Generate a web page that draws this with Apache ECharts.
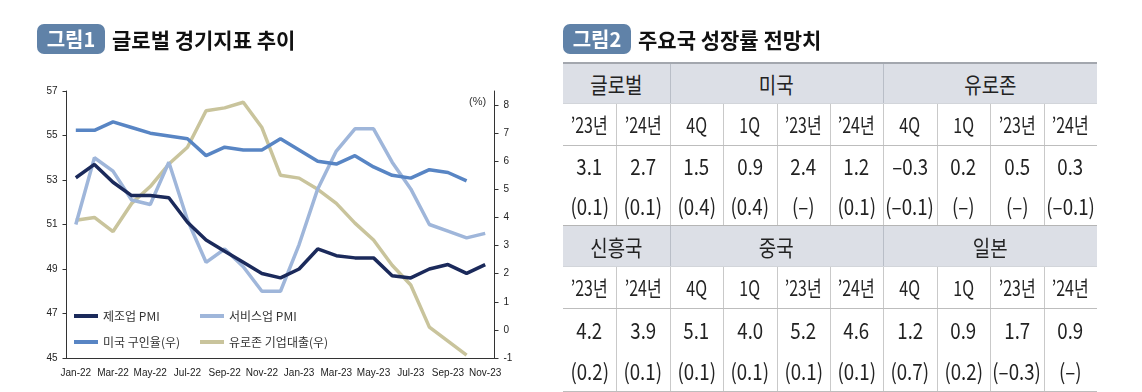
<!DOCTYPE html>
<html><head><meta charset="utf-8">
<script src="https://cdn.jsdelivr.net/npm/echarts@6/dist/echarts.min.js"></script>
<style>
html,body{margin:0;padding:0;background:#fff;width:1142px;height:392px;overflow:hidden;font-family:"Noto Sans CJK KR","Noto Sans",sans-serif;}
#chart{position:absolute;left:0;top:0;width:540px;height:392px;}
.badge{position:absolute;height:30px;background:#6082a8;border-radius:7px;color:#fff;font-weight:bold;font-size:20px;line-height:30px;text-align:center;}
.title{position:absolute;font-weight:bold;font-size:21px;color:#111;line-height:30px;white-space:nowrap;}
#tbl{position:absolute;left:0;top:0;width:1142px;height:392px;}
.cell{position:absolute;display:flex;align-items:center;justify-content:center;white-space:nowrap;color:#222;}
.cell span{display:inline-block;}
.grp{font-size:22px;}
.grp span{transform:scaleX(0.86);}
.sub{font-size:21px;}
.sub span{transform:scaleX(0.76);}
.val{font-size:22px;}
.val span{transform:scaleX(0.85);}
.ln{position:absolute;}
</style>
</head><body>
<div id="chart"></div>
<div id="tbl"></div>
<div class="badge" style="left:37px;top:24px;width:68px;">그림1</div>
<div class="title" style="left:112px;top:24px;">글로벌 경기지표 추이</div>
<div class="badge" style="left:563px;top:24px;width:68px;">그림2</div>
<div class="title" style="left:638px;top:24px;">주요국 성장률 전망치</div>
<script>
// ---- chart data ----
const months = ['Jan-22','Feb-22','Mar-22','Apr-22','May-22','Jun-22','Jul-22','Aug-22','Sep-22','Oct-22','Nov-22','Dec-22',
                'Jan-23','Feb-23','Mar-23','Apr-23','May-23','Jun-23','Jul-23','Aug-23','Sep-23','Oct-23','Nov-23'];
const mfgPMI = [53.1,53.7,52.9,52.3,52.3,52.2,51.1,50.3,49.8,49.3,48.8,48.6,49.0,49.9,49.6,49.5,49.5,48.7,48.6,49.0,49.2,48.8,49.2];
const svcPMI = [51.0,54.0,53.4,52.1,51.9,53.8,51.2,49.3,49.9,49.1,48.0,48.0,50.1,52.6,54.3,55.3,55.3,53.8,52.6,51.0,50.7,50.4,50.6];
const usJobOpenings = [7.1,7.1,7.4,7.2,7.0,6.9,6.8,6.2,6.5,6.4,6.4,6.8,6.4,6.0,5.9,6.2,5.8,5.5,5.4,5.7,5.6,5.3,null];
const euroCorpLoans = [3.9,4.0,3.5,4.5,5.1,5.9,6.5,7.8,7.9,8.1,7.2,5.5,5.4,5.0,4.5,3.8,3.2,2.3,1.6,0.1,-0.4,-0.9,null];
const leftTicks = [45,47,49,51,53,55,57];
const rightTicks = [-1,0,1,2,3,4,5,6,7,8];
const seriesNames = ['제조업 PMI','서비스업 PMI','미국 구인율(우)','유로존 기업대출(우)'];

// ---- table data ----
const tblSubHeads = ['’23년','’24년','4Q','1Q','’23년','’24년','4Q','1Q','’23년','’24년'];
const tblGroupSpans = [2,4,4];
const tblGroups1 = ['글로벌','미국','유로존'];
const tblValues1 = ['3.1','2.7','1.5','0.9','2.4','1.2','–0.3','0.2','0.5','0.3'];
const tblChanges1 = ['(0.1)','(0.1)','(0.4)','(0.4)','(–)','(0.1)','(–0.1)','(–)','(–)','(–0.1)'];
const tblGroups2 = ['신흥국','중국','일본'];
const tblValues2 = ['4.2','3.9','5.1','4.0','5.2','4.6','1.2','0.9','1.7','0.9'];
const tblChanges2 = ['(0.2)','(0.1)','(0.1)','(0.1)','(0.1)','(0.1)','(0.7)','(0.2)','(–0.3)','(–)'];

const colors = ['#1b2a5b','#9fb6da','#5885c4','#c9c49c'];
const font = '"Liberation Sans","Noto Sans CJK KR",sans-serif';

const chart = echarts.init(document.getElementById('chart'), null, {renderer:'canvas'});
function legendAt(name, left, top){
  return {data:[name], left:left, top:top, orient:'horizontal', padding:0, itemWidth:24, itemHeight:4, icon:'rect', itemGap:5,
    textStyle:{fontSize:12, color:'#333', fontFamily:'"Noto Sans CJK KR",sans-serif'}};
}
chart.setOption({
  animation:false,
  backgroundColor:'#fff',
  grid:{left:66.5, right:540-494.5, top:91, bottom:34},
  legend:[
    legendAt(seriesNames[0], 74, 310),
    legendAt(seriesNames[2], 74, 336),
    legendAt(seriesNames[1], 200, 310),
    legendAt(seriesNames[3], 200, 336)
  ],
  graphic:[{type:'text', left:469, top:96, style:{text:'(%)', fontSize:11, fill:'#333', fontFamily:font}}],
  xAxis:{type:'category', data:months, boundaryGap:true,
    axisLine:{onZero:false, lineStyle:{color:'#333', width:1}},
    axisTick:{interval:1, length:4, lineStyle:{color:'#333'}},
    axisLabel:{interval:1, fontSize:10, color:'#222', margin:10, fontFamily:font}},
  yAxis:[
    {type:'value', min:45, max:57, position:'left', splitLine:{show:false},
     axisLine:{show:true, onZero:false, lineStyle:{color:'#333'}},
     axisTick:{show:true, length:4, customValues:leftTicks, lineStyle:{color:'#333'}},
     axisLabel:{customValues:leftTicks, fontSize:10, color:'#222', margin:9, fontFamily:font}},
    {type:'value', min:-1, max:8.5, position:'right', splitLine:{show:false},
     axisLine:{show:true, onZero:false, lineStyle:{color:'#333'}},
     axisTick:{show:true, length:4, customValues:rightTicks, lineStyle:{color:'#333'}},
     axisLabel:{customValues:rightTicks, fontSize:10, color:'#222', margin:9, fontFamily:font}}
  ],
  series:[
    {name:seriesNames[0], type:'line', yAxisIndex:0, data:mfgPMI, symbol:'none', lineStyle:{width:3.5, color:colors[0]}, itemStyle:{color:colors[0]}, z:5},
    {name:seriesNames[1], type:'line', yAxisIndex:0, data:svcPMI, symbol:'none', lineStyle:{width:3.5, color:colors[1]}, itemStyle:{color:colors[1]}, z:2},
    {name:seriesNames[2], type:'line', yAxisIndex:1, data:usJobOpenings, symbol:'none', lineStyle:{width:3.5, color:colors[2]}, itemStyle:{color:colors[2]}, z:3},
    {name:seriesNames[3], type:'line', yAxisIndex:1, data:euroCorpLoans, symbol:'none', lineStyle:{width:3.5, color:colors[3]}, itemStyle:{color:colors[3]}, z:1}
  ]
});

// ---- table build ----
const tbl = document.getElementById('tbl');
const X0 = 563, CW = 53.4, NC = 10;
function box(x,y,w,h,style){const d=document.createElement('div');d.className='ln';d.style.cssText=`left:${x}px;top:${y}px;width:${w}px;height:${h}px;`+style;tbl.appendChild(d);return d;}
function cell(x,y,w,h,text,cls){const d=document.createElement('div');d.className='cell '+cls;d.style.cssText=`left:${x}px;top:${y}px;width:${w}px;height:${h}px;`;const s=document.createElement('span');s.textContent=text;d.appendChild(s);tbl.appendChild(d);}
function block(top, groups, values, changes, valH, topLineStyle){
  const hH=41, sH=42;
  box(X0, top, CW*NC, hH, 'background:#dcdfe6;');
  let c=0;
  groups.forEach((g,i)=>{
    const span=tblGroupSpans[i];
    cell(X0+c*CW, top, span*CW, hH, g, 'grp');
    if(c>0) box(Math.round(X0+c*CW), top, 1, hH, 'background:#b9bec7;');
    c+=span;
  });
  const sTop=top+hH, vTop=sTop+sH, bottom=vTop+2*valH;
  for(let i=0;i<NC;i++){
    cell(X0+i*CW, sTop, CW, sH, tblSubHeads[i], 'sub');
    cell(X0+i*CW, vTop, CW, valH, values[i], 'val');
    cell(X0+i*CW, vTop+valH, CW, valH, changes[i], 'val');
    if(i>0) box(Math.round(X0+i*CW), sTop, 1, bottom-sTop, 'background:#c9c9c9;');
  }
  box(X0, top, CW*NC, topLineStyle[0], 'background:'+topLineStyle[1]+';');
  box(X0, sTop, CW*NC, 1, 'background:#d2d5da;');
  box(X0, vTop, CW*NC, 1, 'background:#bdbdbd;');
  return bottom;
}
block(62, tblGroups1, tblValues1, tblChanges1, 40, [2,'#a3a7ae']);
const b2 = block(225, tblGroups2, tblValues2, tblChanges2, 41.5, [1,'#b5b5b5']);
box(X0, b2, CW*NC, 1, 'background:#bdbdbd;');
</script>
</body></html>
